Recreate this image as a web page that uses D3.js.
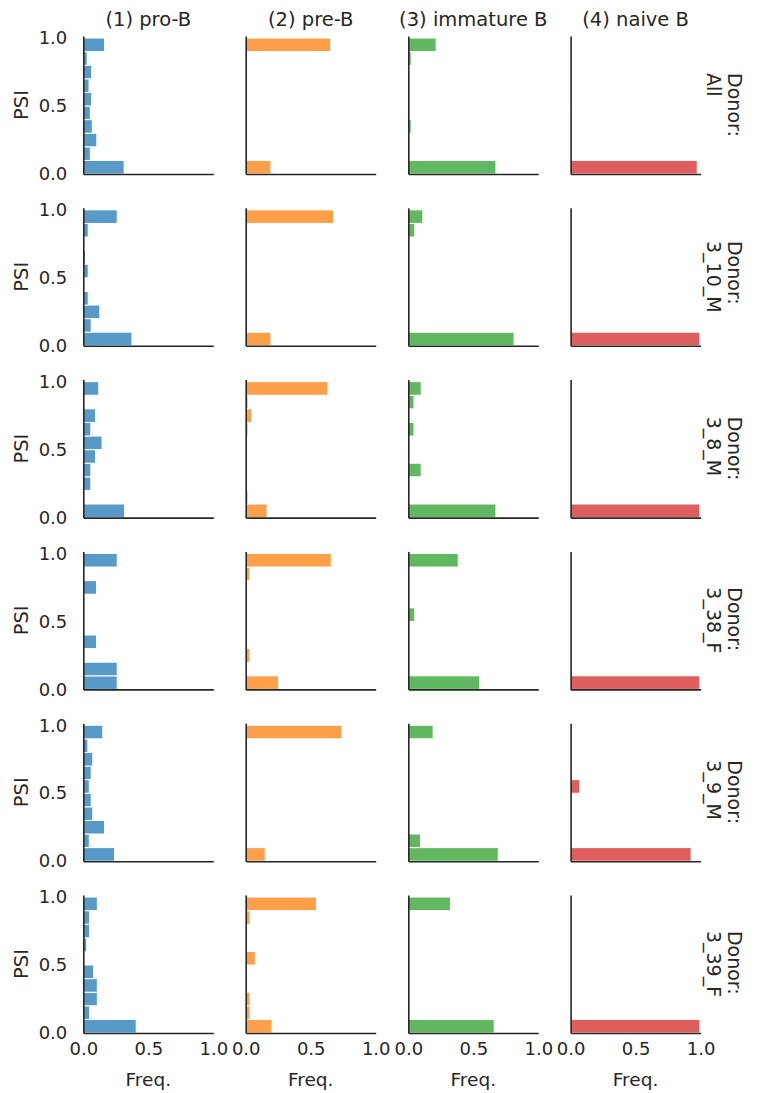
<!DOCTYPE html>
<html>
<head>
<meta charset="utf-8">
<script src="https://cdn.jsdelivr.net/npm/d3@7"></script>
<style>
  html, body { margin: 0; padding: 0; background: #fff; }
  text { font-family: "DejaVu Sans", sans-serif; fill: #262626; }
</style>
</head>
<body>
<svg id="chart" width="757" height="1093"></svg>
<script>
// ---- data ----
const cellTypes = ["(1) pro-B", "(2) pre-B", "(3) immature B", "(4) naive B"];
const donors = ["All", "3_10_M", "3_8_M", "3_38_F", "3_9_M", "3_39_F"];
const binEdges = [0.0, 0.1, 0.2, 0.3, 0.4, 0.5, 0.6, 0.7, 0.8, 0.9, 1.0];
const colors = ["#1f77b4", "#ff7f0e", "#2ca02c", "#d62728"];
const xTicks = [0.0, 0.5, 1.0];
const yTicks = [0.0, 0.5, 1.0];

// frequencies per PSI bin (low -> high), one row per donor
const proB = [
  [0.314, 0.054, 0.104, 0.069, 0.054, 0.064, 0.044, 0.064, 0.030, 0.164],
  [0.374, 0.061, 0.127, 0.038, 0, 0.038, 0.017, 0, 0.038, 0.261],
  [0.317, 0, 0.058, 0.058, 0.094, 0.144, 0.058, 0.094, 0, 0.119],
  [0.261, 0.261, 0, 0.102, 0, 0, 0, 0.102, 0, 0.261],
  [0.240, 0.046, 0.163, 0.073, 0.061, 0.046, 0.061, 0.073, 0.035, 0.150],
  [0.407, 0.049, 0.108, 0.108, 0.079, 0, 0.026, 0.049, 0.049, 0.108]
];
const preB = [
  [0.194, 0.014, 0.014, 0, 0, 0.014, 0, 0.014, 0.014, 0.654],
  [0.194, 0.014, 0.014, 0, 0, 0, 0.014, 0.014, 0, 0.676],
  [0.164, 0.018, 0, 0, 0.014, 0, 0.018, 0.047, 0.018, 0.632],
  [0.254, 0, 0.032, 0, 0, 0, 0, 0, 0.032, 0.658],
  [0.150, 0, 0.014, 0.014, 0, 0.014, 0, 0.014, 0, 0.740],
  [0.202, 0.034, 0.034, 0.014, 0, 0.074, 0, 0, 0.034, 0.544]
];
const immB = [
  [0.674, 0, 0, 0.022, 0, 0, 0, 0, 0.022, 0.214],
  [0.814, 0, 0, 0, 0, 0, 0, 0, 0.050, 0.112],
  [0.674, 0, 0, 0.099, 0, 0, 0.044, 0, 0.044, 0.099],
  [0.548, 0, 0, 0, 0, 0.050, 0, 0, 0, 0.384],
  [0.692, 0.094, 0, 0, 0, 0, 0, 0, 0, 0.191],
  [0.661, 0, 0, 0, 0, 0, 0, 0, 0, 0.324]
];
const naiveB = [
  [0.974, 0, 0, 0, 0, 0.006, 0, 0, 0, 0],
  [0.994, 0, 0, 0, 0, 0, 0, 0, 0, 0],
  [0.994, 0, 0, 0, 0, 0, 0, 0, 0, 0],
  [0.994, 0, 0, 0, 0, 0, 0, 0, 0, 0],
  [0.927, 0, 0, 0, 0, 0.071, 0, 0, 0, 0],
  [0.994, 0, 0, 0, 0, 0, 0, 0, 0, 0]
];
const series = [proB, preB, immB, naiveB];

// ---- layout ----
const svg = d3.select("#chart");
const panelW = 130, panelH = 138;
const colX = [83.3, 245.7, 408.3, 570.6];
const rowTop0 = 36, rowStep = 171.8;
const tickFs = 18, labelFs = 19.5;

const x = d3.scaleLinear().domain([0, 1]).range([0, panelW]);
const y = d3.scaleLinear().domain([0, 1.015]).range([panelH, 0]);

donors.forEach((donor, r) => {
  const top = rowTop0 + r * rowStep;
  cellTypes.forEach((ct, c) => {
    const g = svg.append("g").attr("transform", `translate(${colX[c]},${top})`);
    const vals = series[c][r];
    const bins = vals.map((v, i) => ({ v, y0: binEdges[i], y1: binEdges[i + 1] })).filter(d => d.v > 0);
    g.selectAll("rect").data(bins).enter().append("rect")
      .attr("x", x(0))
      .attr("y", d => y(d.y1))
      .attr("width", d => x(d.v) - x(0))
      .attr("height", d => y(d.y0) - y(d.y1))
      .attr("fill", colors[c])
      .attr("fill-opacity", 0.75)
      .attr("stroke", "#fff")
      .attr("stroke-width", 1);

    // left axis
    const ya = d3.axisLeft(y).tickValues(yTicks).tickSize(0).tickSizeOuter(0).tickPadding(16)
      .tickFormat(c === 0 ? d3.format(".1f") : () => "");
    const yg = g.append("g").call(ya);
    yg.select(".domain").attr("stroke", "#262626").attr("stroke-width", 1.6);
    yg.selectAll("text").attr("font-size", tickFs).attr("font-family", "DejaVu Sans").attr("fill", "#262626");

    // bottom axis
    const xa = d3.axisBottom(x).tickValues(xTicks).tickSize(0).tickSizeOuter(0).tickPadding(9)
      .tickFormat(r === donors.length - 1 ? d3.format(".1f") : () => "");
    const xg = g.append("g").attr("transform", `translate(0,${panelH})`).call(xa);
    xg.select(".domain").attr("stroke", "#262626").attr("stroke-width", 1.6);
    xg.selectAll("text").attr("font-size", tickFs).attr("font-family", "DejaVu Sans").attr("fill", "#262626");

    if (r === 0) {
      svg.append("text").attr("x", colX[c] + panelW / 2).attr("y", 26)
        .attr("text-anchor", "middle").attr("font-size", labelFs).text(ct);
    }
    if (r === donors.length - 1) {
      svg.append("text").attr("x", colX[c] + panelW / 2).attr("y", top + panelH + 53)
        .attr("text-anchor", "middle").attr("font-size", 18.5).text("Freq.");
    }
  });

  // PSI label
  const cy = top + panelH / 2;
  svg.append("text").attr("transform", `translate(28,${cy}) rotate(-90)`)
    .attr("text-anchor", "middle").attr("font-size", labelFs).text("PSI");

  // row title
  const rg = svg.append("g");
  const t1 = rg.append("text").attr("font-size", 19).text("Donor:");
  const t2 = rg.append("text").attr("font-size", 19).attr("y", 21.5).text(donor);
  const maxLen = Math.max(t1.node().getComputedTextLength(), t2.node().getComputedTextLength());
  rg.attr("transform", `translate(728,${cy - maxLen / 2}) rotate(90)`);
});
</script>
</body>
</html>
